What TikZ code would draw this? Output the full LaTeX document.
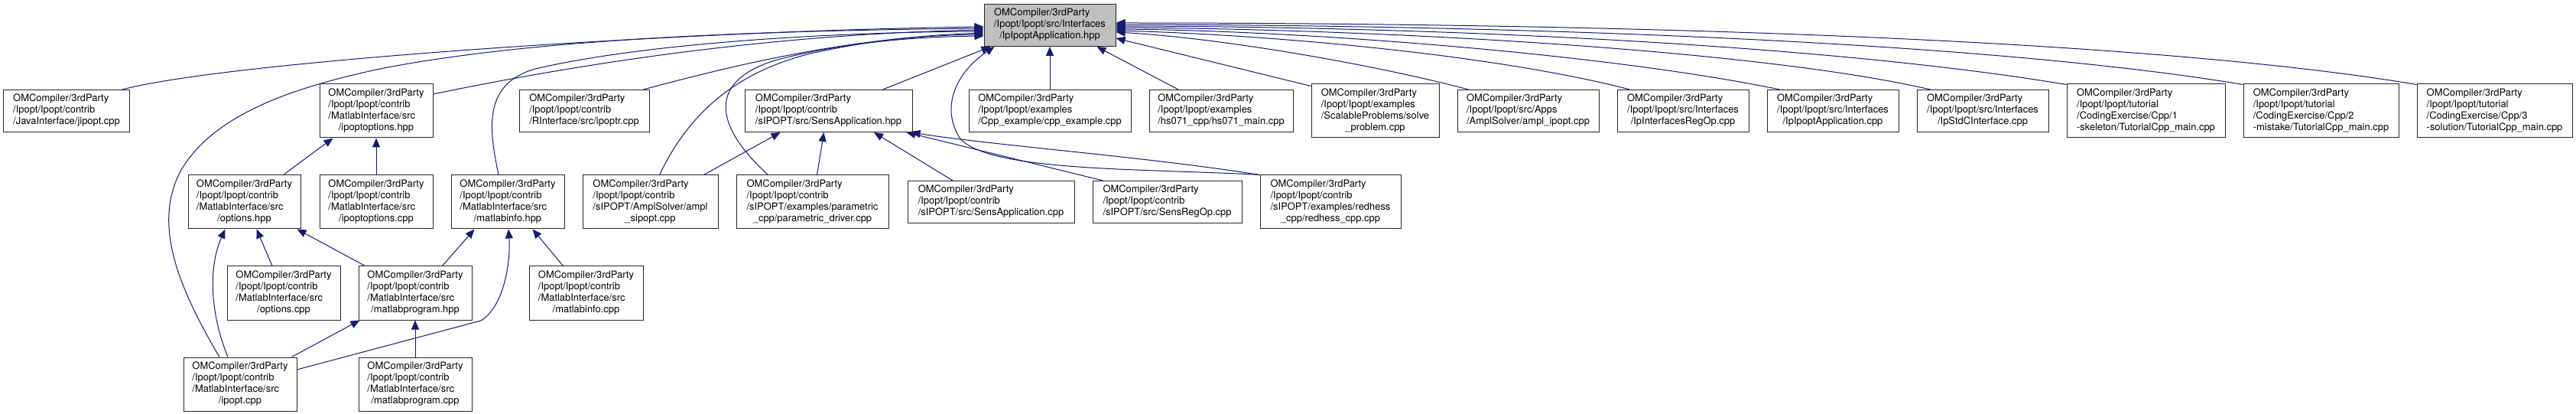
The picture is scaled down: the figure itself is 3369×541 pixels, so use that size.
\documentclass[tikz,border=0pt]{standalone}
\usepackage{fontspec}
\setmainfont{TeX Gyre Heros}
\usetikzlibrary{arrows.meta,calc}
\definecolor{edgec}{RGB}{25,25,112}
\definecolor{topfill}{RGB}{191,191,191}
\newcommand{\dlbl}[2]{\begin{tabular}{@{}l@{}}#1\\\multicolumn{1}{@{}c@{}}{#2}\end{tabular}}
\tikzset{
 fbx/.style={draw=black!85, line width=0.75pt, fill=white, inner sep=0pt, font=\fontsize{9.7}{11.25}\selectfont},
 h3/.style={minimum height=41.25pt},
 h4/.style={minimum height=52.5pt},
 bw/.style={minimum width=#1*0.75pt},
 dep/.style={draw=edgec, line width=0.75pt, -{Triangle[length=9pt,width=7.5pt]}, fill=none},
}
\begin{document}
\begin{tikzpicture}[x=0.75pt,y=-0.75pt]
\fill[white] (0,0) rectangle (3369,541);
\useasboundingbox (0,0) rectangle (3369,541);
% top
\node[fbx,h3,bw=172,fill=topfill] (T) at (1373,33) {\dlbl{OMCompiler/3rdParty\\/Ipopt/Ipopt/src/Interfaces}{/IpIpoptApplication.hpp}};
% row 1
\node[fbx,h3,bw=165] (jipopt) at (87,145) {\dlbl{OMCompiler/3rdParty\\/Ipopt/Ipopt/contrib}{/JavaInterface/jipopt.cpp}};
\node[fbx,h4,bw=148] (ipopth) at (492,145) {\dlbl{OMCompiler/3rdParty\\/Ipopt/Ipopt/contrib\\/MatlabInterface/src}{/ipoptoptions.hpp}};
\node[fbx,h3,bw=170] (ipoptr) at (764,145) {\dlbl{OMCompiler/3rdParty\\/Ipopt/Ipopt/contrib}{/RInterface/src/ipoptr.cpp}};
\node[fbx,h3,bw=219] (sensh) at (1083.5,145) {\dlbl{OMCompiler/3rdParty\\/Ipopt/Ipopt/contrib}{/sIPOPT/src/SensApplication.hpp}};
\node[fbx,h3,bw=212] (cpp) at (1373,145) {\dlbl{OMCompiler/3rdParty\\/Ipopt/Ipopt/examples}{/Cpp\_example/cpp\_example.cpp}};
\node[fbx,h3,bw=188] (hs) at (1597,145) {\dlbl{OMCompiler/3rdParty\\/Ipopt/Ipopt/examples}{/hs071\_cpp/hs071\_main.cpp}};
\node[fbx,h4,bw=167] (scal) at (1798.5,145) {\dlbl{OMCompiler/3rdParty\\/Ipopt/Ipopt/examples\\/ScalableProblems/solve}{\_problem.cpp}};
\node[fbx,h3,bw=185] (aipopt) at (1998.5,145) {\dlbl{OMCompiler/3rdParty\\/Ipopt/Ipopt/src/Apps}{/AmplSolver/ampl\_ipopt.cpp}};
\node[fbx,h3,bw=172] (iro) at (2201,145) {\dlbl{OMCompiler/3rdParty\\/Ipopt/Ipopt/src/Interfaces}{/IpInterfacesRegOp.cpp}};
\node[fbx,h3,bw=172] (iac) at (2397,145) {\dlbl{OMCompiler/3rdParty\\/Ipopt/Ipopt/src/Interfaces}{/IpIpoptApplication.cpp}};
\node[fbx,h3,bw=172] (istd) at (2593,145) {\dlbl{OMCompiler/3rdParty\\/Ipopt/Ipopt/src/Interfaces}{/IpStdCInterface.cpp}};
\node[fbx,h4,bw=207] (tut1) at (2806.5,145) {\dlbl{OMCompiler/3rdParty\\/Ipopt/Ipopt/tutorial\\/CodingExercise/Cpp/1}{-skeleton/TutorialCpp\_main.cpp}};
\node[fbx,h4,bw=203] (tut2) at (3035.5,145) {\dlbl{OMCompiler/3rdParty\\/Ipopt/Ipopt/tutorial\\/CodingExercise/Cpp/2}{-mistake/TutorialCpp\_main.cpp}};
\node[fbx,h4,bw=203] (tut3) at (3262.5,145) {\dlbl{OMCompiler/3rdParty\\/Ipopt/Ipopt/tutorial\\/CodingExercise/Cpp/3}{-solution/TutorialCpp\_main.cpp}};
% row 2
\node[fbx,h4,bw=147] (opth) at (319.5,264) {\dlbl{OMCompiler/3rdParty\\/Ipopt/Ipopt/contrib\\/MatlabInterface/src}{/options.hpp}};
\node[fbx,h4,bw=148] (ipoptcc) at (492,264) {\dlbl{OMCompiler/3rdParty\\/Ipopt/Ipopt/contrib\\/MatlabInterface/src}{/ipoptoptions.cpp}};
\node[fbx,h4,bw=148] (minfoh) at (664,264) {\dlbl{OMCompiler/3rdParty\\/Ipopt/Ipopt/contrib\\/MatlabInterface/src}{/matlabinfo.hpp}};
\node[fbx,h4,bw=177] (asipopt) at (850.5,264) {\dlbl{OMCompiler/3rdParty\\/Ipopt/Ipopt/contrib\\/sIPOPT/AmplSolver/ampl}{\_sipopt.cpp}};
\node[fbx,h4,bw=199] (param) at (1062.5,264) {\dlbl{OMCompiler/3rdParty\\/Ipopt/Ipopt/contrib\\/sIPOPT/examples/parametric}{\_cpp/parametric\_driver.cpp}};
\node[fbx,h3,bw=218] (sensc) at (1296,264) {\dlbl{OMCompiler/3rdParty\\/Ipopt/Ipopt/contrib}{/sIPOPT/src/SensApplication.cpp}};
\node[fbx,h3,bw=195] (sensreg) at (1526.5,264) {\dlbl{OMCompiler/3rdParty\\/Ipopt/Ipopt/contrib}{/sIPOPT/src/SensRegOp.cpp}};
\node[fbx,h4,bw=184] (redhess) at (1740,264) {\dlbl{OMCompiler/3rdParty\\/Ipopt/Ipopt/contrib\\/sIPOPT/examples/redhess}{\_cpp/redhess\_cpp.cpp}};
% row 3
\node[fbx,h4,bw=148] (optc) at (371,383) {\dlbl{OMCompiler/3rdParty\\/Ipopt/Ipopt/contrib\\/MatlabInterface/src}{/options.cpp}};
\node[fbx,h4,bw=148] (mph) at (543,383) {\dlbl{OMCompiler/3rdParty\\/Ipopt/Ipopt/contrib\\/MatlabInterface/src}{/matlabprogram.hpp}};
\node[fbx,h4,bw=149] (minfoc) at (766.5,383) {\dlbl{OMCompiler/3rdParty\\/Ipopt/Ipopt/contrib\\/MatlabInterface/src}{/matlabinfo.cpp}};
% row 4
\node[fbx,h4,bw=148] (ipoptc) at (314,502) {\dlbl{OMCompiler/3rdParty\\/Ipopt/Ipopt/contrib\\/MatlabInterface/src}{/ipopt.cpp}};
\node[fbx,h4,bw=148] (mpc) at (543,502) {\dlbl{OMCompiler/3rdParty\\/Ipopt/Ipopt/contrib\\/MatlabInterface/src}{/matlabprogram.cpp}};
% edges to T (left side)
\draw[dep] ($(jipopt.north east)+(-10,0)$) .. controls (300,80) and (900,40) .. ($(T.west)+(0,2)$);
\draw[dep] ($(ipoptc.north)+(-27,0)$) .. controls (230,370) and (200,290) .. (237,222) .. controls (280,150) and (380,115) .. (497,90) .. controls (700,50) and (1000,40) .. ($(T.west)+(0,4)$);
\draw[dep] ($(ipopth.east)+(0,-22)$) .. controls (750,85) and (1000,45) .. ($(T.west)+(0,6)$);
\draw[dep] ($(minfoh.north)+(-12,0)$) .. controls (640,170) and (630,110) .. (700,90) .. controls (850,55) and (1100,42) .. ($(T.west)+(0,8)$);
\draw[dep] ($(ipoptr.north east)+(-8,0)$) .. controls (950,88) and (1100,50) .. ($(T.west)+(0,10)$);
\draw[dep] ($(asipopt.north)+(12,0)$) .. controls (900,150) and (960,95) .. (1060,70) .. controls (1150,50) and (1220,46) .. ($(T.west)+(0,12)$);
\draw[dep] ($(param.north)+(-58,0)$) .. controls (940,170) and (920,110) .. (1010,80) .. controls (1100,55) and (1200,48) .. ($(T.west)+(0,14)$);
% bottom of T
\draw[dep] ($(sensh.north east)+(-39,0)$) -- ($(T.south west)+(9,0)$);
\draw[dep] (redhess.north west) .. controls (1500,220) and (1290,225) .. (1255,180) .. controls (1230,140) and (1250,95) .. ($(T.south west)+(14,0)$);
\draw[dep] (cpp.north) -- (T.south);
\draw[dep] ($(hs.north)+(-56,0)$) -- ($(T.south east)+(-25,0)$);
\draw[dep] ($(scal.north west)+(0,3)$) -- ($(T.east)+(0,17)$);
% right side
\draw[dep] ($(aipopt.north west)+(15,0)$) .. controls (1800,85) and (1600,50) .. ($(T.east)+(0,9)$);
\draw[dep] ($(iro.north west)+(17,0)$) .. controls (1950,70) and (1650,45) .. ($(T.east)+(0,7)$);
\draw[dep] ($(iac.north west)+(17,0)$) .. controls (2100,70) and (1700,40) .. ($(T.east)+(0,5)$);
\draw[dep] ($(istd.north west)+(18,0)$) .. controls (2300,65) and (1800,38) .. ($(T.east)+(0,3)$);
\draw[dep] ($(tut1.north west)+(0,1)$) .. controls (2400,60) and (1900,35) .. ($(T.east)+(0,1)$);
\draw[dep] ($(tut2.north west)+(0,1)$) .. controls (2600,55) and (2000,33) .. ($(T.east)+(0,-1)$);
\draw[dep] ($(tut3.north west)+(0,1)$) .. controls (2800,50) and (2100,30) .. ($(T.east)+(0,-3)$);
% to SensApplication.hpp
\draw[dep] ($(sensc.north)+(-50,0)$) -- ($(sensh.south)+(59.5,0)$);
\draw[dep] ($(sensreg.north west)+(14,0)$) -- ($(sensh.south east)+(-8,0)$);
\draw[dep] (redhess.north west) .. controls (1500,205) and (1300,190) .. ($(sensh.south east)+(-2,0)$);
\draw[dep] ($(asipopt.north east)+(-19,0)$) -- ($(sensh.south west)+(47,0)$);
\draw[dep] ($(param.north)+(6,0)$) -- ($(sensh.south)+(-6,0)$);
% to ipoptoptions.hpp
\draw[dep] ($(opth.north)+(51,0)$) -- ($(ipopth.south west)+(18,0)$);
\draw[dep] (ipoptcc.north) -- (ipopth.south);
% to options.hpp
\draw[dep] ($(optc.north)+(-15,0)$) -- ($(opth.south)+(16,0)$);
\draw[dep] ($(mph.north west)+(9,0)$) -- ($(opth.south east)+(-5,0)$);
\draw[dep] ($(ipoptc.north)+(-16,0)$) .. controls (275,410) and (272,350) .. ($(opth.south)+(-25,0)$);
% to matlabinfo.hpp
\draw[dep] ($(mph.north east)+(-39,0)$) -- ($(minfoh.south west)+(31,0)$);
\draw[dep] ($(ipoptc.east)+(0,-19)$) -- (629,419) .. controls (660,400) and (668,340) .. ($(minfoh.south)+(1,0)$);
\draw[dep] ($(minfoc.north)+(-30,0)$) -- ($(minfoh.south east)+(-42,0)$);
% to matlabprogram.hpp
\draw[dep] ($(ipoptc.north east)+(-7,0)$) -- ($(mph.south west)+(2,0)$);
\draw[dep] (mpc.north) -- (mph.south);
\end{tikzpicture}
\end{document}
